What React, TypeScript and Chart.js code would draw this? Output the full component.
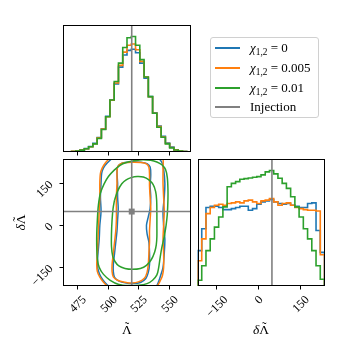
import React, { useEffect, useRef } from "react";
import { Chart, registerables } from "chart.js";
Chart.register(...registerables);

const BLUE = "#1f77b4";
const ORANGE = "#ff7f0e";
const GREEN = "#2ca02c";
const GREY = "#808080";

const CHI_VALUES = ["0", "0.005", "0.01"];
const SERIES_COLORS = [BLUE, ORANGE, GREEN];
const INJECTION_LABEL = "Injection";

const LAMBDA_RANGE = [463.5, 567.8];
const DLAMBDA_RANGE = [-216.5, 236.5];
const LAMBDA_TICKS = [475, 500, 525, 550];
const DLAMBDA_TICKS = [-150, 0, 150];
const INJ_LAMBDA = 519.5;
const INJ_DLAMBDA = 49;

// 1D histogram of Lambda-tilde (30 bins over LAMBDA_RANGE)
const LAMBDA_HIST_BLUE = [1, 2, 4, 9, 17, 29, 47, 75, 125, 200, 310, 450, 590, 735, 840, 880, 890, 860, 770, 640, 480, 340, 225, 135, 78, 42, 20, 9, 4, 1];
const LAMBDA_HIST_ORANGE = [1, 2, 5, 9, 16, 28, 45, 72, 122, 198, 305, 448, 598, 750, 865, 925, 935, 885, 785, 650, 478, 335, 220, 130, 74, 39, 18, 8, 3, 1];
const LAMBDA_HIST_GREEN = [1, 2, 4, 9, 16, 28, 45, 70, 118, 195, 305, 450, 610, 770, 905, 990, 1000, 925, 800, 650, 480, 335, 215, 128, 70, 36, 17, 8, 3, 1];

// 1D histogram of delta Lambda-tilde (30 bins over DLAMBDA_RANGE)
const DLAMBDA_HIST_BLUE = [105, 170, 233, 237, 237, 233, 227, 227, 230, 233, 237, 237, 225, 230, 243, 250, 253, 257, 250, 245, 243, 245, 240, 237, 233, 233, 245, 247, 165, 100];
const DLAMBDA_HIST_ORANGE = [75, 140, 215, 233, 240, 243, 240, 245, 247, 250, 247, 253, 255, 250, 245, 253, 255, 260, 250, 240, 245, 247, 240, 233, 230, 227, 225, 225, 223, 93];
const DLAMBDA_HIST_GREEN = [17, 60, 105, 140, 175, 205, 235, 295, 305, 310, 317, 319, 321, 323, 325, 330, 339, 343, 333, 320, 305, 290, 265, 235, 205, 170, 140, 105, 60, 20];

// 2D credible contours (Lambda-tilde, delta Lambda-tilde)
const BLUE_INNER = [[508,150],[507.5,190],[508,208],[510.5,219],[514,224],[520,226],[527,225],[532,220],[534.5,208],[535,180],[534.5,140],[535,100],[534.5,60],[533,30],[531.5,0],[532,-30],[533.5,-60],[534,-100],[534,-140],[533,-168],[531,-190],[527,-203],[521,-208],[515,-206],[509,-199],[505.5,-186],[504.5,-165],[504.5,-140],[505.5,-100],[506.5,-60],[507.5,-20],[508,20],[508.5,60],[508,100],[508,150]];
const BLUE_OUTER = [[505,250],[503,237],[499.5,222],[496.5,205],[495,185],[494.5,150],[494,100],[494.5,50],[493.5,0],[493,-50],[492,-100],[491.5,-140],[492.5,-165],[494.5,-185],[497.5,-203],[501,-218],[507,-232],[521,-238],[535,-232],[539.5,-218],[541.5,-200],[543,-180],[545,-150],[546,-100],[546.5,-50],[545.5,0],[545,50],[546,100],[546.5,150],[545.5,200],[544,225],[541,240],[536,252],[525,260],[512,260],[505,250]];
const ORANGE_INNER = [[507.5,150],[507.5,190],[508,208],[510,218],[513.5,223],[520,225],[527,224],[531.5,219],[533.5,207],[534,180],[534,140],[534.5,100],[535,60],[534.5,20],[534,-20],[534,-60],[533.5,-100],[533,-140],[532,-168],[530,-188],[525.5,-201],[519.5,-206],[514,-203],[508,-196],[504.5,-184],[503.5,-165],[503.5,-140],[504.5,-100],[505.5,-60],[506.5,-20],[507,20],[507,60],[507,100],[507.5,150]];
const ORANGE_OUTER = [[503,250],[501,237],[498,222],[495.5,205],[494,185],[493.5,150],[493.5,100],[493,50],[492.5,0],[492,-50],[491.5,-100],[491,-140],[491.5,-165],[493.5,-185],[496.5,-203],[500,-218],[506,-232],[520,-238],[534,-232],[540,-218],[542.5,-200],[544.5,-180],[545.5,-150],[545.5,-100],[545,-50],[545.5,0],[546,50],[545.5,100],[545,150],[545,200],[545,237],[543,252],[530,262],[512,262],[503,250]];
const GREEN_INNER = [[505.5,90],[508,122],[511.4,148],[515,162],[519,170],[524,174],[529,172],[533.5,162],[537,145],[539,120],[539.8,90],[540,40],[540,0],[540,-40],[539.5,-70],[538.2,-95],[535.5,-122],[531.5,-143],[526.5,-154],[520,-157],[514,-154],[509,-145],[506,-130],[504,-110],[503,-75],[503,-30],[503.5,20],[504.3,60],[505.5,90]];
const GREEN_OUTER = [[521,230],[528,234],[535,232],[540,226],[544,216],[547,200],[548.5,170],[549,130],[549,90],[548.5,40],[547.5,0],[546,-40],[544,-80],[542.5,-120],[541.5,-150],[540,-177],[536.5,-196],[532,-208],[525,-214],[517,-215],[509,-211],[502,-196],[496.5,-175],[493,-150],[491.5,-120],[491,-80],[491,-30],[491.5,20],[492.3,70],[494,115],[497,148],[500.5,174],[505,196],[510,214],[515,224],[521,230]];

const FONT_FAMILY = '"Liberation Serif", serif';
const TICK_SIZE = 12;
const TITLE_SIZE = 13.5;

function fmtTick(v: number) {
  return v < 0 ? "\u2212" + Math.abs(v) : String(v);
}

function histPoints(counts: number[], lo: number, hi: number) {
  const n = counts.length;
  const w = (hi - lo) / n;
  const pts: { x: number; y: number }[] = [{ x: lo, y: 0 }];
  counts.forEach((c, i) => pts.push({ x: lo + i * w, y: c }));
  pts.push({ x: hi, y: counts[n - 1] });
  pts.push({ x: hi, y: 0 });
  return pts;
}

function histDs(counts: number[], range: number[], color: string, order: number) {
  return {
    data: histPoints(counts, range[0], range[1]),
    borderColor: color,
    borderWidth: 1.6,
    pointRadius: 0,
    fill: false,
    stepped: true,
    tension: 0,
    order,
  };
}

function contourDs(pts: number[][], color: string, order: number) {
  return {
    data: pts.map(([x, y]) => ({ x, y })),
    borderColor: color,
    borderWidth: 1.5,
    pointRadius: 0,
    fill: false,
    tension: 0.3,
    order,
  };
}

function lineDs(pts: number[][], order: number) {
  return {
    data: pts.map(([x, y]) => ({ x, y })),
    borderColor: GREY,
    borderWidth: 1.6,
    pointRadius: 0,
    fill: false,
    tension: 0,
    order,
  };
}

function drawRotLabel(ctx: CanvasRenderingContext2D, text: string, cx: number, cy: number) {
  ctx.save();
  ctx.translate(cx, cy);
  ctx.rotate(-Math.PI / 4);
  ctx.textAlign = "center";
  ctx.textBaseline = "alphabetic";
  ctx.fillText(text, 0, TICK_SIZE * 0.34);
  ctx.restore();
}

// parts: [text, italic, tildeAccent]
type Part = [string, boolean, boolean];

function drawTitle(ctx: CanvasRenderingContext2D, parts: Part[], cx: number, cy: number, rot: number) {
  ctx.save();
  ctx.translate(cx, cy);
  ctx.rotate(rot);
  ctx.textAlign = "left";
  ctx.textBaseline = "alphabetic";
  const fontOf = (it: boolean) => (it ? "italic " : "") + TITLE_SIZE + "px " + FONT_FAMILY;
  const widths = parts.map(([t, it]) => {
    ctx.font = fontOf(it);
    return ctx.measureText(t).width;
  });
  const total = widths.reduce((a, b) => a + b, 0);
  let x = -total / 2;
  const base = TITLE_SIZE * 0.36;
  parts.forEach(([t, it, tilde], i) => {
    ctx.font = fontOf(it);
    ctx.fillText(t, x, base);
    if (tilde) {
      ctx.save();
      ctx.textAlign = "center";
      ctx.font = TITLE_SIZE + "px " + FONT_FAMILY;
      ctx.fillText("\u02DC", x + widths[i] / 2, base - TITLE_SIZE * 0.2);
      ctx.restore();
    }
    x += widths[i];
  });
  ctx.restore();
}

type DecoCfg = {
  xTicks: number[];
  xLabels: boolean;
  yTicks: number[] | null;
  xTitle?: Part[];
  yTitle?: Part[];
};

function makeDeco(cfg: DecoCfg) {
  return {
    id: "deco",
    afterDatasetsDraw(chart: any) {
      const { ctx, chartArea: a, scales } = chart;
      ctx.save();
      ctx.strokeStyle = "#000";
      ctx.fillStyle = "#000";
      ctx.lineWidth = 1;
      const l = Math.round(a.left) + 0.5;
      const t = Math.round(a.top) + 0.5;
      const r = Math.round(a.right) - 0.5;
      const b = Math.round(a.bottom) - 0.5;
      ctx.strokeRect(l, t, r - l, b - t);
      ctx.font = TICK_SIZE + "px " + FONT_FAMILY;
      const h = TICK_SIZE * 0.68;
      cfg.xTicks.forEach((v) => {
        const px = Math.round(scales.x.getPixelForValue(v)) + 0.5;
        ctx.beginPath();
        ctx.moveTo(px, b);
        ctx.lineTo(px, b + 4);
        ctx.stroke();
        if (cfg.xLabels) {
          const s = fmtTick(v);
          const box = (ctx.measureText(s).width + h) * Math.SQRT1_2;
          drawRotLabel(ctx, s, px, b + 9 + box / 2);
        }
      });
      if (cfg.yTicks) {
        cfg.yTicks.forEach((v) => {
          const py = Math.round(scales.y.getPixelForValue(v)) + 0.5;
          ctx.beginPath();
          ctx.moveTo(l, py);
          ctx.lineTo(l - 4, py);
          ctx.stroke();
          const s = fmtTick(v);
          const box = (ctx.measureText(s).width + h) * Math.SQRT1_2;
          drawRotLabel(ctx, s, l - 10 - box / 2, py - 4 + box / 2);
        });
      }
      if (cfg.xTitle) drawTitle(ctx, cfg.xTitle, (a.left + a.right) / 2, a.bottom + 43, 0);
      if (cfg.yTitle) drawTitle(ctx, cfg.yTitle, 20, (a.top + a.bottom) / 2, -Math.PI / 2);
      ctx.restore();
    },
  };
}

function baseOptions(xr: number[], yr: number[], padding: any) {
  return {
    animation: false,
    responsive: false,
    devicePixelRatio: 1,
    layout: { padding },
    plugins: { legend: { display: false }, tooltip: { enabled: false } },
    events: [],
    scales: {
      x: { type: "linear", min: xr[0], max: xr[1], display: false },
      y: { type: "linear", min: yr[0], max: yr[1], display: false },
    },
  };
}

const TITLE_L: Part[] = [["\u039B", false, true]];
const TITLE_DL: Part[] = [["\u03B4", true, false], ["\u039B", false, true]];

export default function App() {
  const refA = useRef<HTMLCanvasElement>(null);
  const refB = useRef<HTMLCanvasElement>(null);
  const refC = useRef<HTMLCanvasElement>(null);

  useEffect(() => {
    const maxA = 1.1 * Math.max(...LAMBDA_HIST_BLUE, ...LAMBDA_HIST_ORANGE, ...LAMBDA_HIST_GREEN);
    const maxC = 1.1 * Math.max(...DLAMBDA_HIST_BLUE, ...DLAMBDA_HIST_ORANGE, ...DLAMBDA_HIST_GREEN);

    const chartA = new Chart(refA.current!, {
      type: "line",
      data: {
        datasets: [
          lineDs([[INJ_LAMBDA, 0], [INJ_LAMBDA, maxA]], 0),
          histDs(LAMBDA_HIST_GREEN, LAMBDA_RANGE, GREEN, 1),
          histDs(LAMBDA_HIST_ORANGE, LAMBDA_RANGE, ORANGE, 2),
          histDs(LAMBDA_HIST_BLUE, LAMBDA_RANGE, BLUE, 3),
        ] as any,
      },
      options: baseOptions(LAMBDA_RANGE, [0, maxA], { left: 63, top: 25, right: 159, bottom: 198 }) as any,
      plugins: [makeDeco({ xTicks: LAMBDA_TICKS, xLabels: false, yTicks: null })],
    });

    const chartB = new Chart(refB.current!, {
      type: "line",
      data: {
        datasets: [
          {
            data: [{ x: INJ_LAMBDA, y: INJ_DLAMBDA }],
            showLine: false,
            pointStyle: "rect",
            pointRadius: 4.2,
            pointBackgroundColor: GREY,
            pointBorderColor: GREY,
            pointBorderWidth: 0,
            order: -1,
          },
          lineDs([[INJ_LAMBDA, DLAMBDA_RANGE[0]], [INJ_LAMBDA, DLAMBDA_RANGE[1]]], 0),
          lineDs([[LAMBDA_RANGE[0], INJ_DLAMBDA], [LAMBDA_RANGE[1], INJ_DLAMBDA]], 0),
          contourDs(GREEN_INNER, GREEN, 1),
          contourDs(GREEN_OUTER, GREEN, 1),
          contourDs(ORANGE_INNER, ORANGE, 2),
          contourDs(ORANGE_OUTER, ORANGE, 2),
          contourDs(BLUE_INNER, BLUE, 3),
          contourDs(BLUE_OUTER, BLUE, 3),
        ] as any,
      },
      options: baseOptions(LAMBDA_RANGE, DLAMBDA_RANGE, { left: 63, top: 159, right: 159, bottom: 64 }) as any,
      plugins: [makeDeco({ xTicks: LAMBDA_TICKS, xLabels: true, yTicks: DLAMBDA_TICKS, xTitle: TITLE_L, yTitle: TITLE_DL })],
    });

    const chartC = new Chart(refC.current!, {
      type: "line",
      data: {
        datasets: [
          lineDs([[INJ_DLAMBDA, 0], [INJ_DLAMBDA, maxC]], 0),
          histDs(DLAMBDA_HIST_GREEN, DLAMBDA_RANGE, GREEN, 1),
          histDs(DLAMBDA_HIST_ORANGE, DLAMBDA_RANGE, ORANGE, 2),
          histDs(DLAMBDA_HIST_BLUE, DLAMBDA_RANGE, BLUE, 3),
        ] as any,
      },
      options: baseOptions(DLAMBDA_RANGE, [0, maxC], { left: 197.5, top: 159, right: 25.5, bottom: 64 }) as any,
      plugins: [makeDeco({ xTicks: DLAMBDA_TICKS, xLabels: true, yTicks: null, xTitle: TITLE_DL })],
    });

    return () => {
      chartA.destroy();
      chartB.destroy();
      chartC.destroy();
    };
  }, []);

  const canvasStyle: React.CSSProperties = { position: "absolute", left: 0, top: 0 };
  const rowTops = [10, 30, 50, 69];
  const legendRows = [
    ...CHI_VALUES.map((v, i) => ({
      color: SERIES_COLORS[i],
      label: (
        <span>
          <i>χ</i>
          <span style={{ fontSize: "0.72em", position: "relative", top: "0.3em" }}>1,2</span>
          {" = " + v}
        </span>
      ),
    })),
    { color: GREY, label: <span>{INJECTION_LABEL}</span> },
  ];

  return (
    <div style={{ position: "fixed", left: 0, top: 0, width: 350, height: 350, background: "#fff", overflow: "hidden" }}>
      <canvas ref={refA} width={350} height={350} style={canvasStyle} />
      <canvas ref={refB} width={350} height={350} style={canvasStyle} />
      <canvas ref={refC} width={350} height={350} style={canvasStyle} />
      <div
        style={{
          position: "absolute",
          left: 210,
          top: 37,
          width: 107,
          height: 79,
          border: "1px solid #d0d0d0",
          borderRadius: 3,
          background: "rgba(255,255,255,0.8)",
          fontFamily: FONT_FAMILY,
          fontSize: 13,
          color: "#000",
        }}
      >
        {legendRows.map((row, i) => (
          <div key={i}>
            <div
              style={{
                position: "absolute",
                left: 4,
                top: rowTops[i] - 1,
                width: 25,
                height: 1.6,
                background: row.color,
              }}
            />
            <div
              style={{
                position: "absolute",
                left: 39,
                top: rowTops[i] - 8,
                lineHeight: "16px",
                whiteSpace: "nowrap",
              }}
            >
              {row.label}
            </div>
          </div>
        ))}
      </div>
    </div>
  );
}
